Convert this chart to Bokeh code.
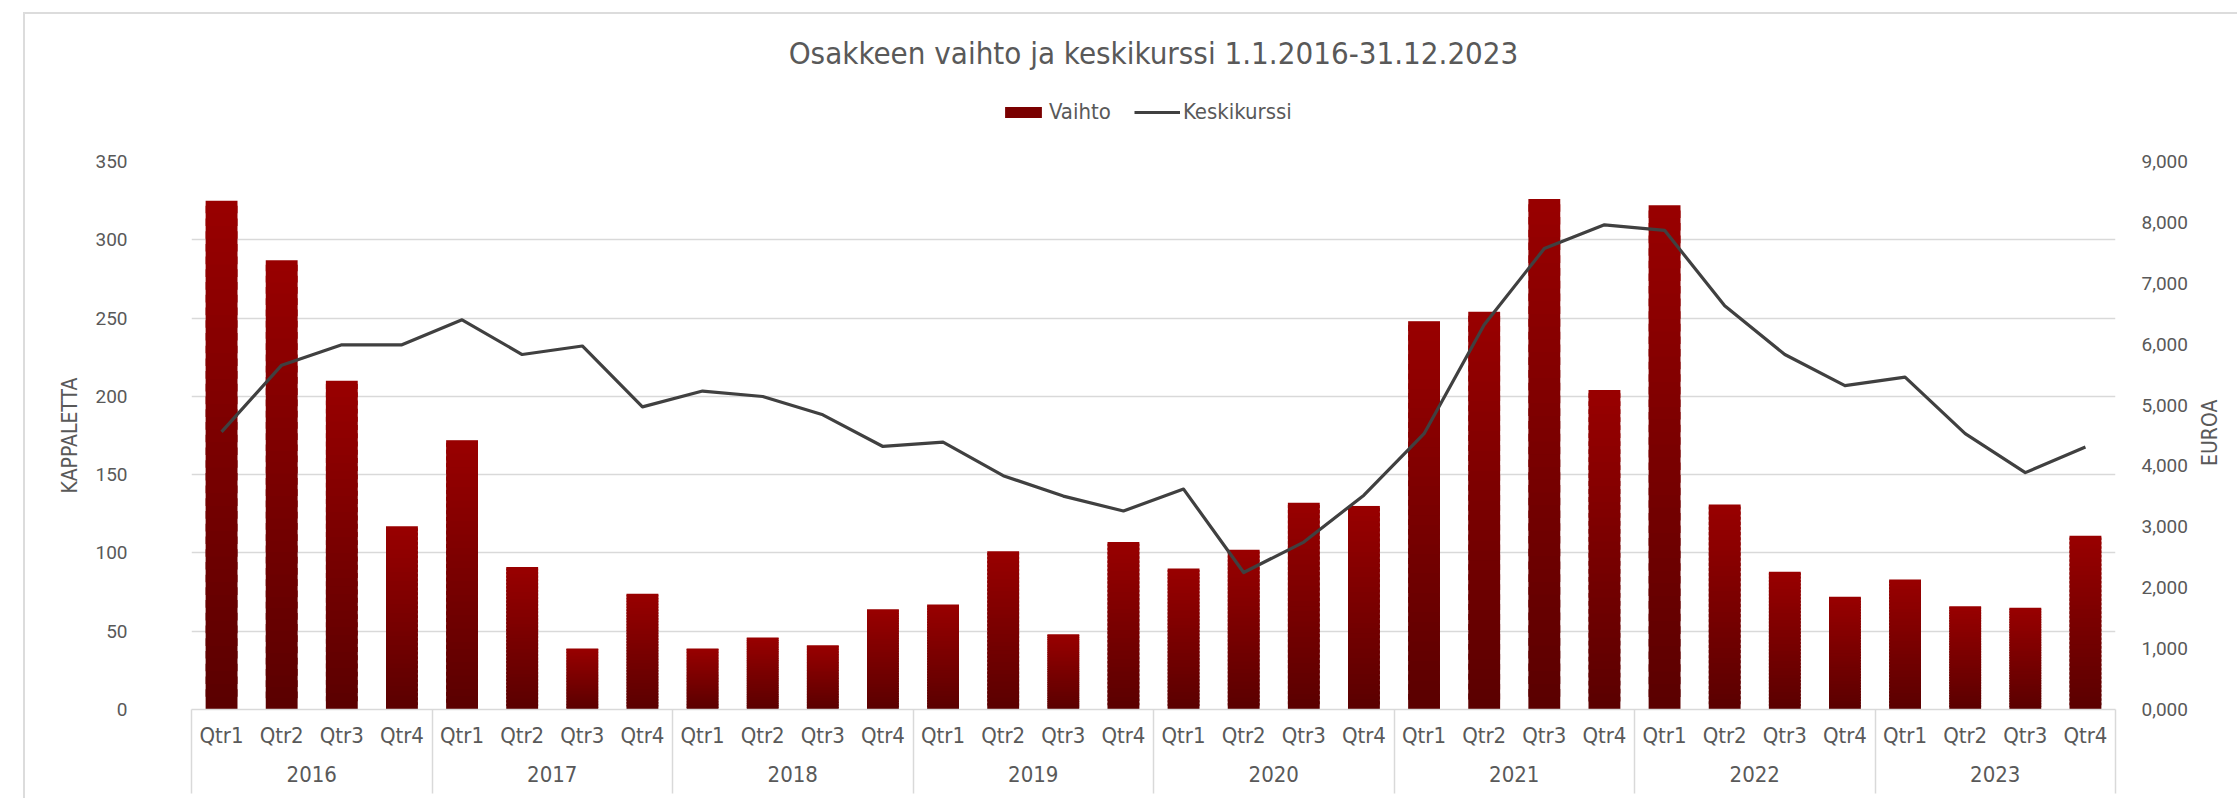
import math
from bokeh.plotting import figure
from bokeh.layouts import column
from bokeh.models import (Range1d, LinearAxis, FixedTicker, ColumnDataSource,
                          Legend, LegendItem, Grid)
from bokeh.embed import file_html
from bokeh.resources import INLINE

# ---------------- data ----------------
years = ["2016", "2017", "2018", "2019", "2020", "2021", "2022", "2023"]
quarters = ["Qtr1", "Qtr2", "Qtr3", "Qtr4"]
vaihto = [325, 287, 210, 117,
          172, 91, 39, 74,
          39, 46, 41, 64,
          67, 101, 48, 107,
          90, 102, 132, 130,
          248, 254, 326, 204,
          322, 131, 88, 72,
          83, 66, 65, 111]
keskikurssi = [4560, 5655, 5990, 5990,
               6400, 5830, 5970, 4970,
               5230, 5140, 4840, 4320,
               4390, 3840, 3505, 3260,
               3620, 2250, 2750, 3520,
               4530, 6320, 7570, 7960,
               7870, 6630, 5830, 5320,
               5460, 4530, 3890, 4310]
left_ticks = [0, 50, 100, 150, 200, 250, 300, 350]
right_ticks = [0, 1000, 2000, 3000, 4000, 5000, 6000, 7000, 8000, 9000]

TXT = "#595959"
GRID = "#d9d9d9"
BAR_MID = "#7a0000"
LINE_C = "#404040"
NARROW = "Noto Sans Condensed Light, Noto Sans Condensed, DejaVu Sans Condensed, sans-serif"

# layout constants (pixels)
W, H = 2237, 798
TOP_H = 140                      # header strip: title + legend
FRAME_L, FRAME_R = 191, 2121
Y_TOP, Y_ZERO = 161, 709         # page rows of the axes' top value and zero
EUROA_AT = 4000                  # where the rotated right-axis title starts (euro scale)

n = len(vaihto)
centers = [i + 0.5 for i in range(n)]

# gradient bars: each bar split into slices
N = 40
top_c = (153, 0, 0)
bot_c = (90, 0, 0)
bx, bb, bt, bc = [], [], [], []
for i, v in enumerate(vaihto):
    for k in range(N):
        t = (k + 0.5) / N
        r = round(bot_c[0] + (top_c[0] - bot_c[0]) * t)
        bx.append(centers[i])
        bb.append(v * k / N)
        bt.append(v * min((k + 1.6) / N, 1.0))
        bc.append("#%02x0000" % r)
bar_src = ColumnDataSource(dict(x=bx, bottom=bb, top=bt, color=bc))

# ---------------- header (title + legend) ----------------
tp = figure(width=W, height=TOP_H, x_range=Range1d(0, 1), y_range=Range1d(0, 1),
            output_backend="svg", toolbar_location=None,
            x_axis_location=None, y_axis_location=None,
            min_border_left=0, min_border_right=0, min_border_top=90, min_border_bottom=0)
tp.xgrid.grid_line_color = None
tp.ygrid.grid_line_color = None
tp.outline_line_color = None
tp.background_fill_color = None
tp.border_fill_color = None
# legend proxies (no visible data)
leg_bar = tp.vbar(x=[float("nan")], top=[float("nan")], width=0.5,
                  fill_color=BAR_MID, line_color=None)
leg_line = tp.line(x=[float("nan")], y=[float("nan")], line_color=LINE_C, line_width=3.2)
legend = Legend(items=[LegendItem(label="Vaihto", renderers=[leg_bar]),
                       LegendItem(label="Keskikurssi", renderers=[leg_line])],
                orientation="horizontal", location=(1000 - FRAME_L, 16),
                label_text_font=NARROW, label_text_font_size="22px", label_text_color=TXT,
                glyph_width=46, glyph_height=14, label_standoff=3, spacing=23,
                border_line_color=None, background_fill_alpha=0, margin=0, padding=0)
tp.add_layout(legend)
tp.title.text = "Osakkeen vaihto ja keskikurssi 1.1.2016-31.12.2023"
tp.title.align = "center"
tp.title.text_font = NARROW
tp.title.text_font_size = "31px"
tp.title.text_font_style = "normal"
tp.title.text_color = TXT
tp.title.standoff = 40

# ---------------- main chart ----------------
p = figure(width=W, height=H - TOP_H, x_range=Range1d(0, n), y_range=Range1d(0, left_ticks[-1]),
           output_backend="svg", toolbar_location=None,
           x_axis_location=None, y_axis_location=None,
           min_border_left=FRAME_L, min_border_right=W - FRAME_R,
           min_border_top=Y_TOP - TOP_H, min_border_bottom=H - Y_ZERO)
p.xgrid.grid_line_color = None
p.ygrid.grid_line_color = None
p.outline_line_color = None
p.background_fill_color = "white"
p.border_fill_color = None

p.extra_y_ranges = {"euro": Range1d(0, right_ticks[-1])}

lt = FixedTicker(ticks=left_ticks)
p.add_layout(Grid(dimension=1, ticker=lt, grid_line_color=GRID, grid_line_width=1.5))

bars = p.vbar(x="x", bottom="bottom", top="top", width=0.53, source=bar_src,
              fill_color="color", line_color=None)
line = p.line(centers, keskikurssi, y_range_name="euro", line_color=LINE_C,
              line_width=3.2, line_join="round")

la = LinearAxis(ticker=lt, axis_label="KAPPALETTA")
ra = LinearAxis(y_range_name="euro", ticker=FixedTicker(ticks=right_ticks),
                major_label_overrides={t: "%d,000" % (t // 1000) for t in right_ticks})
# right-hand title, reading bottom-to-top like the reference
ea = LinearAxis(y_range_name="euro", ticker=FixedTicker(ticks=[EUROA_AT]),
                major_label_overrides={EUROA_AT: "EUROA"})
for ax in (la, ra, ea):
    ax.axis_line_color = None
    ax.major_tick_line_color = None
    ax.minor_tick_line_color = None
    ax.major_tick_out = 0
    ax.major_tick_in = 0
    ax.minor_tick_out = 0
    ax.minor_tick_in = 0
    ax.major_label_text_font = "Roboto"
    ax.major_label_text_font_size = "19px"
    ax.major_label_text_color = TXT
    ax.axis_label_text_font = NARROW
    ax.axis_label_text_font_size = "21px"
    ax.axis_label_text_font_style = "normal"
    ax.axis_label_text_color = TXT
la.major_label_standoff = 64
la.axis_label_standoff = 10
ra.major_label_standoff = 26
ea.major_label_text_font = NARROW
ea.major_label_text_font_size = "21px"
ea.major_label_orientation = math.pi / 2
ea.major_label_standoff = 20
p.add_layout(la, "left")
p.add_layout(ra, "right")
p.add_layout(ea, "right")

# bottom axes: quarters (year separators drawn as minor ticks) and years
qa = LinearAxis(ticker=FixedTicker(ticks=centers, minor_ticks=[4 * j for j in range(len(years) + 1)]),
                major_label_overrides={c: quarters[i % 4] for i, c in enumerate(centers)})
qa.axis_line_color = GRID
qa.axis_line_width = 1.5
qa.major_tick_line_color = None
qa.major_tick_in = 0
qa.major_tick_out = 0
qa.minor_tick_line_color = GRID
qa.minor_tick_line_width = 1.5
qa.minor_tick_in = -84
qa.minor_tick_out = 0
qa.major_label_text_font = NARROW
qa.major_label_text_font_size = "22px"
qa.major_label_text_color = TXT
qa.major_label_standoff = 13

ya = LinearAxis(ticker=FixedTicker(ticks=[4 * j + 2 for j in range(len(years))]),
                major_label_overrides={4 * j + 2: y for j, y in enumerate(years)})
ya.axis_line_color = None
ya.major_tick_line_color = None
ya.major_tick_in = 0
ya.major_tick_out = 0
ya.minor_tick_line_color = None
ya.minor_tick_in = 0
ya.minor_tick_out = 0
ya.major_label_text_font = NARROW
ya.major_label_text_font_size = "22px"
ya.major_label_text_color = TXT
ya.major_label_standoff = 15
p.add_layout(qa, "below")
p.add_layout(ya, "below")

page = column(tp, p, spacing=0,
              styles={"background": "linear-gradient(#dcdcdc,#dcdcdc) 23px 12px / 2px 100% no-repeat, "
                                    "linear-gradient(#dcdcdc,#dcdcdc) 23px 12px / 100% 2px no-repeat, white"})

open("out.html", "w").write(file_html(page, INLINE))
